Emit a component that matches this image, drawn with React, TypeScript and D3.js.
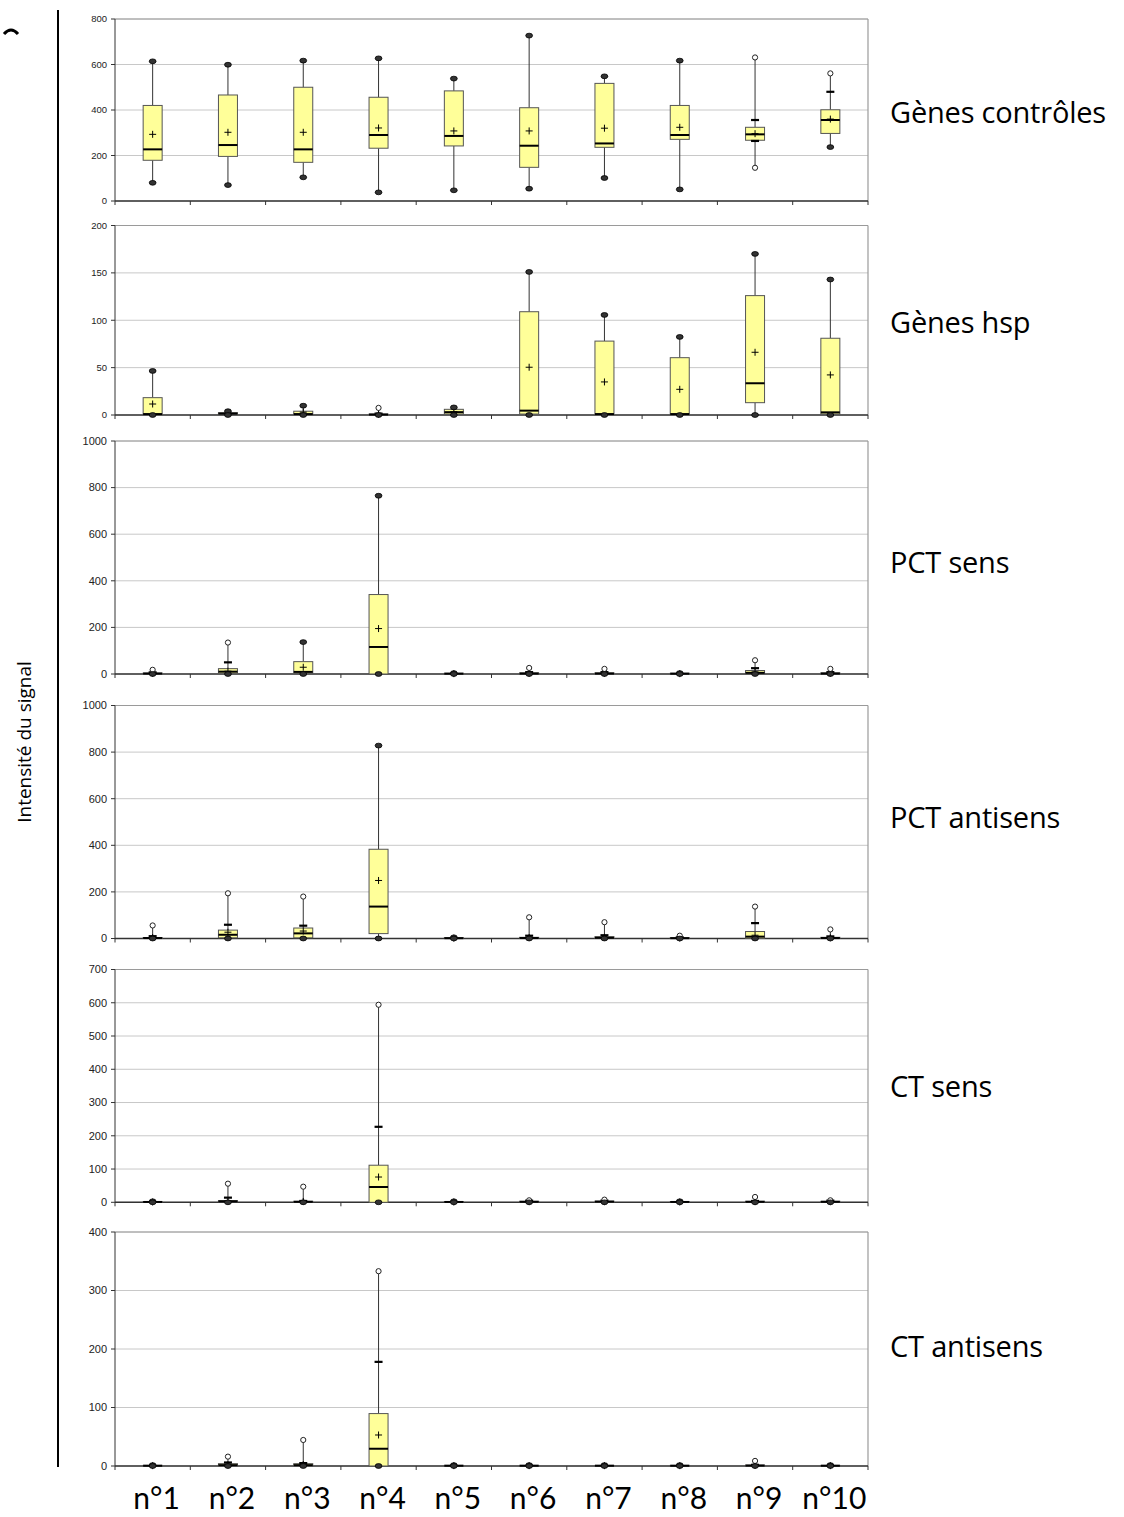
import React from "react";
import * as d3 from "d3";

const categories = ["n°1", "n°2", "n°3", "n°4", "n°5", "n°6", "n°7", "n°8", "n°9", "n°10"];
const panelTitles = ["Gènes contrôles", "Gènes hsp", "PCT sens", "PCT antisens", "CT sens", "CT antisens"];
const panelMax = [800, 200, 1000, 1000, 700, 400];
const panelStep = [200, 50, 200, 200, 100, 100];

// Gènes contrôles
const ctrlMin = [80, 70, 104, 38, 47, 54, 101, 51, 146, 237];
const ctrlLo = [80, 70, 104, 38, 47, 54, 101, 51, 264, 237];
const ctrlQ1 = [179, 196, 170, 232, 242, 148, 236, 271, 267, 297];
const ctrlMed = [227, 246, 227, 290, 286, 243, 253, 290, 293, 356];
const ctrlQ3 = [420, 466, 500, 456, 484, 410, 517, 420, 324, 401];
const ctrlHi = [614, 599, 617, 627, 538, 727, 548, 617, 356, 480];
const ctrlMax = [614, 599, 617, 627, 538, 727, 548, 617, 631, 561];
const ctrlMean = [293, 302, 302, 321, 308, 308, 320, 324, 296, 360];

// Gènes hsp
const hspMin = [0, 0, 0, 0, 0, 0, 0, 0, 0, 0];
const hspLo = [0, 0, 0, 0, 0, 0, 0, 0, 0, 0];
const hspQ1 = [0.5, 0.5, 0.5, 0, 1, 1, 0.5, 0.5, 13, 1];
const hspMed = [1, 1.5, 1, 0.5, 3, 4.6, 1, 1, 33.5, 2.8];
const hspQ3 = [18.3, 2.5, 4, 1, 6, 109, 78, 60.5, 126, 81];
const hspHi = [46.5, 4, 9.8, 1.5, 8, 151, 105.6, 82.4, 170, 143];
const hspMax = [46.5, 4, 9.8, 7.5, 8, 151, 105.6, 82.4, 170, 143];
const hspMean = [11.6, 1.8, 3, 0.8, 3.5, 50.4, 34.9, 27.1, 66.2, 42.3];

// PCT sens
const pctsMin = [0, 0, 0, 0, 0, 0, 0, 0, 0, 0];
const pctsLo = [0, 0, 0, 0, 0, 0, 0, 0, 0, 0];
const pctsQ1 = [0.5, 3, 2, 0, 0.5, 0.5, 0.5, 0.5, 1, 0.5];
const pctsMed = [2, 10, 9, 116, 1.5, 2, 2, 1.5, 5, 2];
const pctsQ3 = [4, 23, 53, 341, 3, 5, 5, 3, 15, 5];
const pctsHi = [7, 50, 137, 765, 4, 8, 8, 4, 25, 8];
const pctsMax = [18, 135, 137, 765, 4, 26, 22, 4, 59, 22];
const pctsMean = [3, 12, 29, 195, 1.5, 3, 3, 1.5, 9, 3];

// PCT antisens
const pctaMin = [0, 0, 0, 0, 0, 0, 0, 0, 0, 0];
const pctaLo = [0, 0, 0, 0, 0, 0, 0, 0, 0, 0];
const pctaQ1 = [0.5, 3, 3, 21, 0.5, 0.5, 0.5, 0.5, 1, 0.5];
const pctaMed = [2, 16, 22, 137, 1.5, 2, 3, 1.5, 8, 2];
const pctaQ3 = [4, 36, 45, 383, 3, 5, 8, 3, 30, 5];
const pctaHi = [10, 59, 55, 828, 5, 12, 14, 5, 66, 9];
const pctaMax = [56, 194, 180, 828, 5, 91, 70, 12, 137, 39];
const pctaMean = [4, 27, 32, 249, 1.5, 4, 5, 2, 14, 3];

// CT sens
const ctsMin = [0, 0, 0, 0, 0, 0, 0, 0, 0, 0];
const ctsLo = [0, 0, 0, 0, 0, 0, 0, 0, 0, 0];
const ctsQ1 = [0.3, 1, 0.5, 0, 0.5, 0.5, 0.5, 0.3, 0.5, 0.5];
const ctsMed = [1, 3, 1.5, 46, 1, 1.5, 2, 1, 1.5, 1.5];
const ctsQ3 = [2, 5, 3, 111.5, 2, 3, 3.5, 2, 3, 3];
const ctsHi = [3, 14, 4, 227, 3, 5, 5, 3, 4, 5];
const ctsMax = [3, 56, 47, 594, 3, 6, 8, 3, 16, 6];
const ctsMean = [1, 4, 2.5, 76, 1, 2, 2, 1, 2, 2];

// CT antisens
const ctaMin = [0, 0, 0, 0, 0, 0, 0, 0, 0, 0];
const ctaLo = [0, 0, 0, 0, 0, 0, 0, 0, 0, 0];
const ctaQ1 = [0.2, 0.2, 0.2, 0, 0.2, 0.2, 0.2, 0.2, 0.2, 0.2];
const ctaMed = [0.5, 1.5, 1.5, 29.5, 0.5, 0.5, 0.5, 0.5, 0.8, 0.5];
const ctaQ3 = [1, 4, 4, 89.6, 1, 1, 1, 1, 1.5, 1];
const ctaHi = [1.5, 6, 5, 178, 1.5, 1.5, 1.5, 1.5, 2, 1.5];
const ctaMax = [1.5, 16, 44.5, 333, 1.5, 1.5, 1.5, 1.5, 8.7, 1.5];
const ctaMean = [0.6, 2, 2.5, 53, 0.6, 0.6, 0.6, 0.6, 1, 0.6];

const series = [
  { min: ctrlMin, lo: ctrlLo, q1: ctrlQ1, med: ctrlMed, q3: ctrlQ3, hi: ctrlHi, max: ctrlMax, mean: ctrlMean },
  { min: hspMin, lo: hspLo, q1: hspQ1, med: hspMed, q3: hspQ3, hi: hspHi, max: hspMax, mean: hspMean },
  { min: pctsMin, lo: pctsLo, q1: pctsQ1, med: pctsMed, q3: pctsQ3, hi: pctsHi, max: pctsMax, mean: pctsMean },
  { min: pctaMin, lo: pctaLo, q1: pctaQ1, med: pctaMed, q3: pctaQ3, hi: pctaHi, max: pctaMax, mean: pctaMean },
  { min: ctsMin, lo: ctsLo, q1: ctsQ1, med: ctsMed, q3: ctsQ3, hi: ctsHi, max: ctsMax, mean: ctsMean },
  { min: ctaMin, lo: ctaLo, q1: ctaQ1, med: ctaMed, q3: ctaQ3, hi: ctaHi, max: ctaMax, mean: ctaMean },
];

// layout
const plotLeft = 115;
const plotRight = 868;
const panelTops = [19, 225.5, 441, 705.5, 969.5, 1232];
const panelBottoms = [201, 415, 674, 938.5, 1202.3, 1466];
const tickFont = [9.5, 9.5, 11, 11, 11, 11];
const titleY = [113, 323, 563, 818, 1087, 1347];

const BOX_W = 19;

function Panel({ idx }: { idx: number }) {
  const s = series[idx];
  const top = panelTops[idx];
  const bottom = panelBottoms[idx];
  const y = d3.scaleLinear().domain([0, panelMax[idx]]).range([bottom, top]);
  const x = d3.scaleBand().domain(categories).range([plotLeft, plotRight]).padding(0);
  const ticks = d3.range(0, panelMax[idx] + 0.001, panelStep[idx]);
  const bw = x.bandwidth();
  const boundaries = d3.range(0, categories.length + 1).map((i) => plotLeft + i * bw);

  return (
    <g>
      {ticks.map((t) => (
        <line key={"g" + t} x1={plotLeft} x2={plotRight} y1={y(t)} y2={y(t)} stroke="#c8c8c8" strokeWidth={1} />
      ))}
      <line x1={plotLeft} x2={plotRight} y1={top} y2={top} stroke="#9a9a9a" strokeWidth={1.2} />
      <line x1={plotRight} x2={plotRight} y1={top} y2={bottom} stroke="#9a9a9a" strokeWidth={1.2} />
      <line x1={plotLeft} x2={plotLeft} y1={top} y2={bottom} stroke="#333" strokeWidth={1} />
      {ticks.map((t) => (
        <g key={"t" + t}>
          <line x1={plotLeft - 4} x2={plotLeft} y1={y(t)} y2={y(t)} stroke="#333" strokeWidth={1} />
          <text
            x={plotLeft - 8}
            y={y(t)}
            dy="0.35em"
            textAnchor="end"
            fontFamily="Liberation Sans, Arial, sans-serif"
            fontSize={tickFont[idx]}
            fill="#222"
          >
            {t}
          </text>
        </g>
      ))}
      <line x1={plotLeft} x2={plotRight} y1={bottom} y2={bottom} stroke="#333" strokeWidth={1.5} />
      {boundaries.map((b, i) => (
        <line key={"xb" + i} x1={b} x2={b} y1={bottom} y2={bottom + 4} stroke="#333" strokeWidth={1} />
      ))}
      {categories.map((c, i) => {
        const cx = (x(c) as number) + bw / 2;
        const x0 = cx - BOX_W / 2;
        const yq1 = y(s.q1[i]);
        const yq3 = y(s.q3[i]);
        const minOut = s.min[i] < s.lo[i];
        const maxOut = s.max[i] > s.hi[i];
        return (
          <g key={c}>
            <line x1={cx} x2={cx} y1={y(s.max[i])} y2={yq3} stroke="#333" strokeWidth={1} />
            <line x1={cx} x2={cx} y1={yq1} y2={y(s.min[i])} stroke="#333" strokeWidth={1} />
            <rect
              x={x0}
              y={yq3}
              width={BOX_W}
              height={Math.max(yq1 - yq3, 0.5)}
              fill="#ffff99"
              stroke="#555"
              strokeWidth={1}
            />
            <line x1={x0} x2={x0 + BOX_W} y1={y(s.med[i])} y2={y(s.med[i])} stroke="#000" strokeWidth={2} />
            <line x1={cx - 3.5} x2={cx + 3.5} y1={y(s.mean[i])} y2={y(s.mean[i])} stroke="#000" strokeWidth={1} />
            <line x1={cx} x2={cx} y1={y(s.mean[i]) - 3.5} y2={y(s.mean[i]) + 3.5} stroke="#000" strokeWidth={1} />
            {maxOut ? (
              <g>
                <line x1={cx - 4} x2={cx + 4} y1={y(s.hi[i])} y2={y(s.hi[i])} stroke="#000" strokeWidth={2.2} />
                <circle cx={cx} cy={y(s.max[i])} r={2.6} fill="#fff" stroke="#222" strokeWidth={1} />
              </g>
            ) : (
              <ellipse cx={cx} cy={y(s.max[i])} rx={3.4} ry={2.4} fill="#333" stroke="#000" strokeWidth={0.8} />
            )}
            {minOut ? (
              <g>
                <line x1={cx - 4} x2={cx + 4} y1={y(s.lo[i])} y2={y(s.lo[i])} stroke="#000" strokeWidth={2.2} />
                <circle cx={cx} cy={y(s.min[i])} r={2.6} fill="#fff" stroke="#222" strokeWidth={1} />
              </g>
            ) : (
              <ellipse cx={cx} cy={y(s.min[i])} rx={3.4} ry={2.4} fill="#333" stroke="#000" strokeWidth={0.8} />
            )}
          </g>
        );
      })}
      <text
        x={890}
        y={titleY[idx]}
        dy="0.35em"
        fontFamily="'Open Sans', Lato, sans-serif"
        fontSize={29}
        letterSpacing={-0.2}
        fill="#000"
      >
        {panelTitles[idx]}
      </text>
    </g>
  );
}

export default function App() {
  const x = d3.scaleBand().domain(categories).range([plotLeft, plotRight]);
  return (
    <svg width={1124} height={1517} style={{ position: "absolute", left: 0, top: 0, background: "#fff" }}>
      <rect x={0} y={0} width={1124} height={1517} fill="#fff" />
      <path d="M4,34 Q11,26 18,34" stroke="#000" strokeWidth={3} fill="none" />
      <line x1={58} x2={58} y1={10} y2={1467} stroke="#000" strokeWidth={2} />
      <text
        transform="translate(31,742) rotate(-90)"
        textAnchor="middle"
        fontFamily="'Open Sans', Lato, sans-serif"
        fontSize={19}
        fill="#000"
      >
        Intensité du signal
      </text>
      {panelTitles.map((_, i) => (
        <Panel key={i} idx={i} />
      ))}
      {categories.map((c) => (
        <text
          key={c}
          x={(x(c) as number) + x.bandwidth() / 2 + 4}
          y={1509}
          textAnchor="middle"
          fontFamily="Lato, 'Open Sans', sans-serif"
          fontSize={30}
          fill="#000"
        >
          {c}
        </text>
      ))}
    </svg>
  );
}
